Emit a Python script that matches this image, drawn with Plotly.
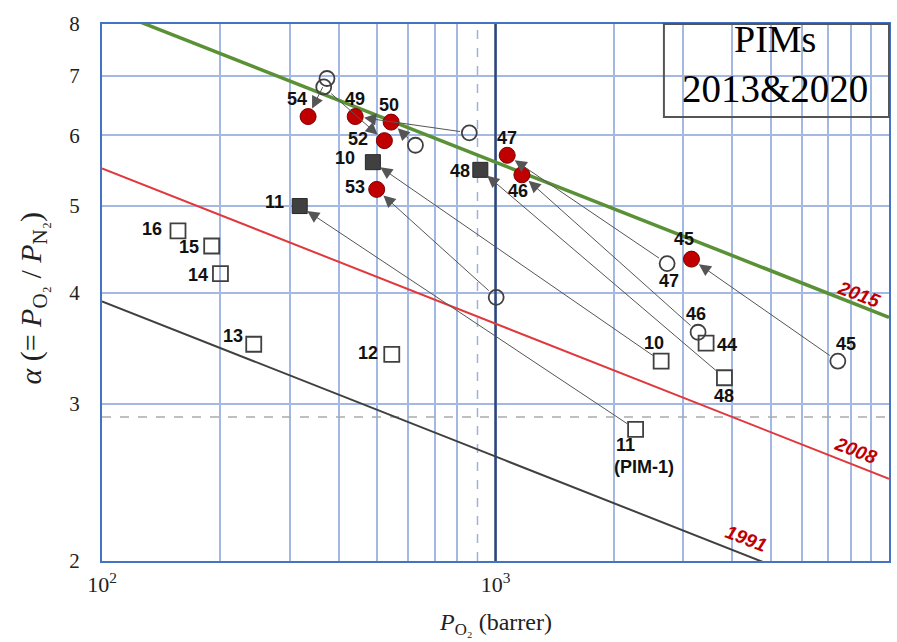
import numpy as np
import plotly.graph_objects as go

# ---- 2020 PIMs: red circles ----
new_labels = ["54", "49", "50", "52", "53", "47", "46", "45"]
new_p = [334, 440, 543, 522, 499, 1071, 1167, 3148]
new_a = [6.30, 6.30, 6.21, 5.92, 5.22, 5.70, 5.42, 4.36]

# ---- 2020 PIMs: filled squares ----
newsq_labels = ["10", "48", "11"]
newsq_p = [488, 915, 318]
newsq_a = [5.60, 5.49, 5.00]

# ---- 2013 PIMs: open circles ----
oldc_labels = ["45", "47", "46", "", "", "", "", ""]
oldc_p = [7413, 2730, 3272, 1004, 858, 626, 366, 373]
oldc_a = [3.35, 4.31, 3.61, 3.95, 6.04, 5.85, 6.80, 6.95]

# ---- 2013 PIMs: open squares ----
olds_labels = ["44", "10", "48", "11", "16", "15", "14", "13", "12"]
olds_p = [3429, 2636, 3818, 2270, 156, 190, 200, 243, 545]
olds_a = [3.51, 3.35, 3.21, 2.81, 4.69, 4.51, 4.20, 3.50, 3.41]

# ---- Robeson upper bounds: alpha = a100 * (P / 100) ** slope ----
bound_years = ["1991", "2008", "2015"]
bound_a100 = [3.91, 5.51, 8.36]
bound_slope = -0.174
bound_colors = ["#404040", "#e0383c", "#5b9136"]
bound_widths = [2, 2, 3.5]

# Year tags placed along the bounds (P, alpha)
year_tag_p = [4330, 8240, 8410]
year_tag_a = [2.12, 2.66, 3.98]

# Arrows: (from series, index) -> (to series, index)
arrows = [
    ("oldc", 0, "new", 7),
    ("oldc", 1, "new", 5),
    ("oldc", 2, "new", 6),
    ("olds", 2, "newsq", 1),
    ("olds", 1, "newsq", 0),
    ("olds", 3, "newsq", 2),
    ("oldc", 3, "new", 4),
    ("oldc", 4, "new", 1),
    ("oldc", 5, "new", 2),
    ("oldc", 6, "new", 3),
    ("oldc", 7, "new", 0),
]

series = {
    "new": (new_p, new_a),
    "newsq": (newsq_p, newsq_a),
    "oldc": (oldc_p, oldc_a),
    "olds": (olds_p, olds_a),
}

# pixel offsets of the number tags relative to their markers (dx right, dy down)
new_off = [(-11, -18), (0, -18), (-2, -17), (-26, -2), (-22, -2), (0, -17), (-4, 16), (-7, -20)]
newsq_off = [(-28, -4), (-20, 1), (-25, -4)]
oldc_off = [(8, -17), (2, 17), (-2, -18), (0, 0), (0, 0), (0, 0), (0, 0), (0, 0)]
olds_off = [(21, 2), (-7, -18), (0, 18), (-10, 16), (-26, -2), (-23, 1), (-22, 1), (-21, -8), (-24, -1)]

GRID = "#a3b8e3"
AXIS = "#4472c4"
SERIF = "Liberation Serif, Times New Roman, serif"
SANS = "Liberation Sans, Arial, sans-serif"

fig = go.Figure()

# reference lines: dashed alpha level, dashed P = 900, solid P = 1000
fig.add_trace(go.Scatter(x=[100, 10000], y=[2.9, 2.9], mode="lines",
                         line=dict(color="#ababab", width=1.5, dash="dash"),
                         hoverinfo="skip", showlegend=False))
fig.add_trace(go.Scatter(x=[900, 900], y=[2, 8], mode="lines",
                         line=dict(color="#9fb1d6", width=1.5, dash="dash"),
                         hoverinfo="skip", showlegend=False))
fig.add_trace(go.Scatter(x=[1000, 1000], y=[2, 8], mode="lines",
                         line=dict(color="#2b4677", width=2.5),
                         hoverinfo="skip", showlegend=False))

# upper bound lines
p_line = np.logspace(2, 4, 200)
for yr, a100, col, w in zip(bound_years, bound_a100, bound_colors, bound_widths):
    fig.add_trace(go.Scatter(x=p_line, y=a100 * (p_line / 100.0) ** bound_slope,
                             mode="lines", line=dict(color=col, width=w),
                             name=yr, hoverinfo="skip", showlegend=False))

# markers
fig.add_trace(go.Scatter(x=oldc_p, y=oldc_a, mode="markers", showlegend=False,
                         marker=dict(symbol="circle-open", size=15, color="#404040",
                                     line=dict(width=1.8))))
fig.add_trace(go.Scatter(x=olds_p, y=olds_a, mode="markers", showlegend=False,
                         marker=dict(symbol="square-open", size=15, color="#404040",
                                     line=dict(width=1.8))))
fig.add_trace(go.Scatter(x=newsq_p, y=newsq_a, mode="markers", showlegend=False,
                         marker=dict(symbol="square", size=15, color="#404040",
                                     line=dict(color="#262626", width=1))))
fig.add_trace(go.Scatter(x=new_p, y=new_a, mode="markers", showlegend=False,
                         marker=dict(symbol="circle", size=16, color="#c00000",
                                     line=dict(color="#7a0000", width=1))))

annotations = []

# arrows from 2013 to 2020 values (annotations on log axes use log10 coordinates)
for s_from, i_from, s_to, i_to in arrows:
    pf, af = series[s_from]
    pt, at = series[s_to]
    annotations.append(dict(
        x=np.log10(pt[i_to]), y=np.log10(at[i_to]),
        ax=np.log10(pf[i_from]), ay=np.log10(af[i_from]),
        xref="x", yref="y", axref="x", ayref="y",
        text="", showarrow=True, arrowhead=2, arrowsize=2.4, arrowwidth=1,
        arrowcolor="#555555", standoff=9, startstandoff=8))

# number tags
for key, labels, offs in [("new", new_labels, new_off), ("newsq", newsq_labels, newsq_off),
                          ("oldc", oldc_labels, oldc_off), ("olds", olds_labels, olds_off)]:
    ps, als = series[key]
    for p, a, lab, (dx, dy) in zip(ps, als, labels, offs):
        if not lab:
            continue
        annotations.append(dict(
            x=np.log10(p), y=np.log10(a), xref="x", yref="y", text=f"<b>{lab}</b>",
            showarrow=False, xshift=dx, yshift=-dy, xanchor="center", yanchor="middle",
            font=dict(family=SANS, size=18, color="#111111")))

# "(PIM-1)" under tag 11
annotations.append(dict(
    x=np.log10(olds_p[3]), y=np.log10(olds_a[3]), xref="x", yref="y",
    text="<b>(PIM-1)</b>", showarrow=False, xshift=8, yshift=-38,
    xanchor="center", yanchor="middle",
    font=dict(family=SANS, size=18, color="#111111")))

# year tags on bounds
for yr, p, a in zip(bound_years, year_tag_p, year_tag_a):
    annotations.append(dict(
        x=np.log10(p), y=np.log10(a), xref="x", yref="y",
        text=f"<b><i>{yr}</i></b>", showarrow=False, textangle=21,
        xanchor="center", yanchor="middle",
        font=dict(family=SANS, size=19, color="#c00000")))

# title box text
annotations.append(dict(x=0.855, y=0.972, xref="paper", yref="paper", text="PIMs",
                        xanchor="center", yanchor="middle", showarrow=False,
                        font=dict(family=SERIF, size=38, color="#000000")))
annotations.append(dict(x=0.855, y=0.879, xref="paper", yref="paper", text="2013&amp;2020",
                        xanchor="center", yanchor="middle", showarrow=False,
                        font=dict(family=SERIF, size=39, color="#000000")))

# axis titles
annotations.append(dict(
    x=0.5, y=-0.117, xref="paper", yref="paper", showarrow=False,
    xanchor="center", yanchor="middle",
    text="<i>P</i><sub>O₂</sub> (barrer)",
    font=dict(family=SERIF, size=24, color="#222222")))
annotations.append(dict(
    x=-0.088, y=0.49, xref="paper", yref="paper", showarrow=False, textangle=-90,
    xanchor="center", yanchor="middle",
    text="<i>α</i> (= <i>P</i><sub>O₂</sub> / <i>P</i><sub>N₂</sub>)",
    font=dict(family=SERIF, size=30, color="#222222")))

x_ticks = [100, 200, 300, 400, 500, 600, 700, 800, 1000,
           2000, 3000, 4000, 5000, 6000, 7000, 8000, 9000, 10000]
x_text = ["10<sup>2</sup>" if v == 100 else "10<sup>3</sup>" if v == 1000
          else "10<sup>4</sup>" if v == 10000 else "" for v in x_ticks]
y_ticks = [2, 3, 4, 5, 6, 7, 8]

fig.update_layout(
    width=897, height=642,
    margin=dict(l=102, r=6, t=24, b=81),
    paper_bgcolor="white", plot_bgcolor="white",
    showlegend=False,
    annotations=annotations,
    shapes=[dict(type="rect", xref="paper", yref="paper", x0=0.714, x1=1.0,
                 y0=0.827, y1=1.0, line=dict(color="#555555", width=2),
                 fillcolor="rgba(0,0,0,0)", layer="above")],
    xaxis=dict(type="log", range=[2, 4], tickvals=x_ticks, ticktext=x_text,
               showgrid=True, gridcolor=GRID, gridwidth=1.5,
               showline=True, mirror=True, linecolor=AXIS, linewidth=2,
               ticks="", ticklabelstandoff=3,
               tickfont=dict(family=SERIF, size=22, color="#222222"),
               zeroline=False),
    yaxis=dict(type="log", range=[np.log10(2), np.log10(8)], tickvals=y_ticks,
               ticktext=[str(v) for v in y_ticks],
               showgrid=True, gridcolor=GRID, gridwidth=1.5,
               showline=True, mirror=True, linecolor=AXIS, linewidth=2,
               ticks="", ticklabelstandoff=16,
               tickfont=dict(family=SERIF, size=21, color="#222222"),
               zeroline=False),
)

fig.write_html("out.html")
